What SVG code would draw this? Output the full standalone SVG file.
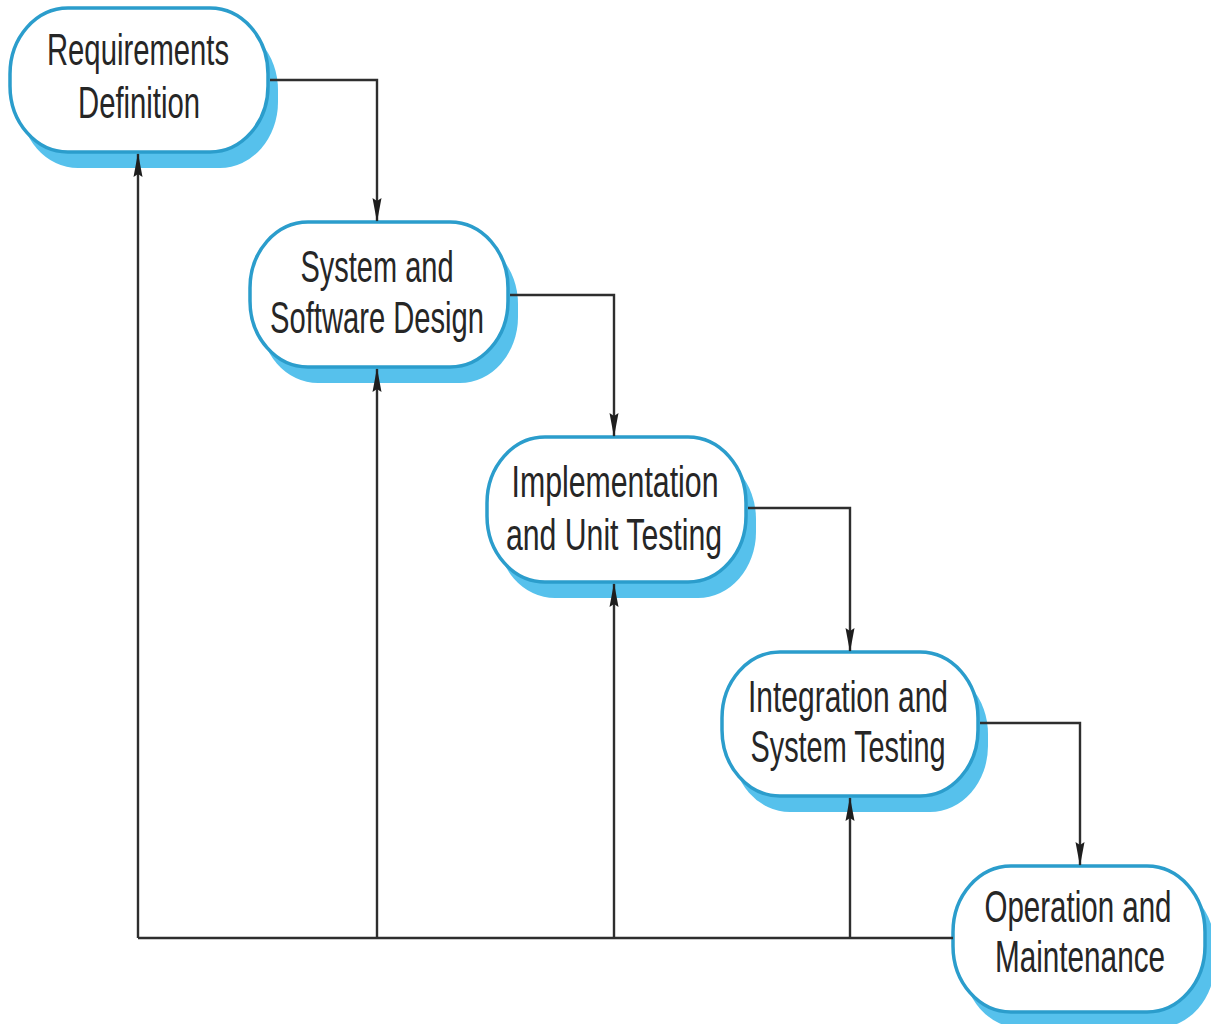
<svg xmlns="http://www.w3.org/2000/svg" width="1211" height="1024" viewBox="0 0 1211 1024">
  <defs>
    <style>
      .shadow { fill: #56c1ec; }
      .box { fill: #ffffff; stroke: #2b9dcc; stroke-width: 3.5; }
      .label { font-family: "Liberation Sans", Arial, sans-serif; font-size: 45px; fill: #262626; text-anchor: middle; }
      .flow { fill: none; stroke: #2e2e2e; stroke-width: 2.4; }
    </style>
    <marker id="arrow" viewBox="0 0 24 10" refX="23" refY="5" markerWidth="24" markerHeight="10" markerUnits="userSpaceOnUse" orient="auto">
      <path d="M0,0.5 L24,5 L0,9.5 L3,5 z" fill="#1e1e1e"/>
    </marker>
  </defs>

  <rect width="1211" height="1024" fill="#ffffff"/>

  <!-- phase boxes; labels are drawn in a 0.75 horizontally condensed frame -->
  <g id="requirements">
    <rect class="shadow" x="20" y="24" width="258" height="144" rx="58" ry="66"/>
    <rect class="box" x="10" y="8" width="258" height="144" rx="58" ry="66"/>
    <text class="label" transform="translate(138,65) scale(0.75,1)" textLength="242.7" lengthAdjust="spacingAndGlyphs">Requirements</text>
    <text class="label" transform="translate(139,118) scale(0.75,1)" textLength="162.7" lengthAdjust="spacingAndGlyphs">Definition</text>
  </g>

  <g id="design">
    <rect class="shadow" x="260" y="238" width="258" height="145" rx="58" ry="66"/>
    <rect class="box" x="250" y="222" width="258" height="145" rx="58" ry="66"/>
    <text class="label" transform="translate(377,282) scale(0.75,1)" textLength="204" lengthAdjust="spacingAndGlyphs">System and</text>
    <text class="label" transform="translate(377,333) scale(0.75,1)" textLength="285.3" lengthAdjust="spacingAndGlyphs">Software Design</text>
  </g>

  <g id="implementation">
    <rect class="shadow" x="497" y="453" width="259" height="145" rx="58" ry="66"/>
    <rect class="box" x="487" y="437" width="259" height="145" rx="58" ry="66"/>
    <text class="label" transform="translate(615,497) scale(0.75,1)" textLength="276" lengthAdjust="spacingAndGlyphs">Implementation</text>
    <text class="label" transform="translate(614,550) scale(0.75,1)" textLength="288" lengthAdjust="spacingAndGlyphs">and Unit Testing</text>
  </g>

  <g id="integration">
    <rect class="shadow" x="732" y="668" width="256" height="144" rx="58" ry="66"/>
    <rect class="box" x="722" y="652" width="256" height="144" rx="58" ry="66"/>
    <text class="label" transform="translate(848,712) scale(0.75,1)" textLength="266.7" lengthAdjust="spacingAndGlyphs">Integration and</text>
    <text class="label" transform="translate(848,762) scale(0.75,1)" textLength="260" lengthAdjust="spacingAndGlyphs">System Testing</text>
  </g>

  <g id="operation">
    <rect class="shadow" x="963" y="882" width="252" height="146" rx="58" ry="66"/>
    <rect class="box" x="953" y="866" width="252" height="146" rx="58" ry="66"/>
    <text class="label" transform="translate(1078,922) scale(0.75,1)" textLength="249.3" lengthAdjust="spacingAndGlyphs">Operation and</text>
    <text class="label" transform="translate(1080,972) scale(0.75,1)" textLength="226.7" lengthAdjust="spacingAndGlyphs">Maintenance</text>
  </g>

  <!-- connectors -->
  <g id="connectors">
    <!-- forward flow between phases -->
    <path class="flow" d="M270,80 H377 V221" marker-end="url(#arrow)"/>
    <path class="flow" d="M510,295 H614 V436" marker-end="url(#arrow)"/>
    <path class="flow" d="M748,508 H850 V651" marker-end="url(#arrow)"/>
    <path class="flow" d="M980,723 H1080 V865" marker-end="url(#arrow)"/>

    <!-- feedback bus from operation back to each earlier phase -->
    <path class="flow" d="M953,938 H138"/>
    <path class="flow" d="M138,938 V154" marker-end="url(#arrow)"/>
    <path class="flow" d="M377,938 V369" marker-end="url(#arrow)"/>
    <path class="flow" d="M614,938 V584" marker-end="url(#arrow)"/>
    <path class="flow" d="M850,938 V798" marker-end="url(#arrow)"/>
  </g>
</svg>
